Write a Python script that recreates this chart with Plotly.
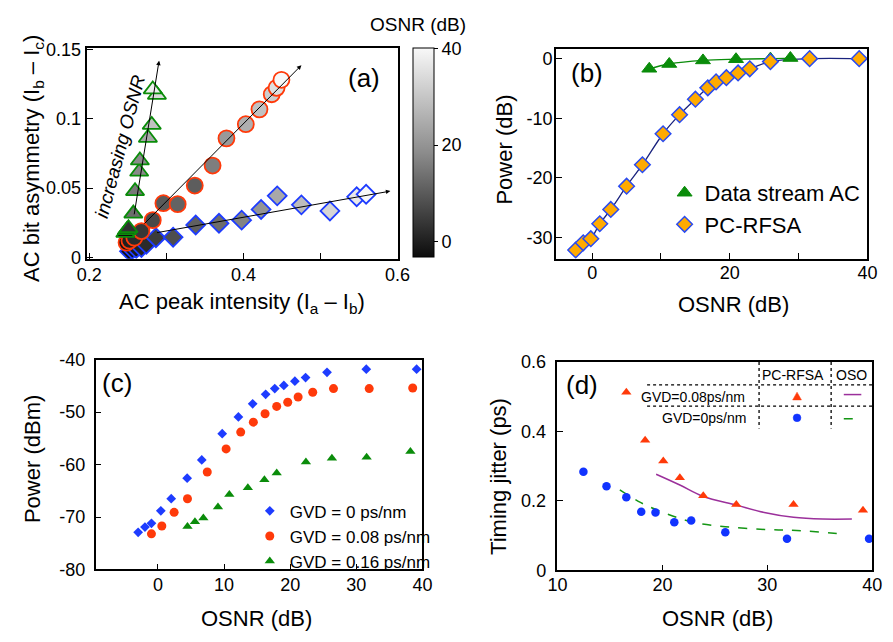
import plotly.graph_objects as go

# page offset (body margin of the html page) and figure size
OFF = 8
W, H = 893 - 2 * OFF, 642 - 2 * OFF
FONT = "Liberation Sans"

# ---------------- Panel (a) data ----------------
a_blue_x = [0.2522, 0.2560, 0.2610, 0.2677, 0.2740, 0.2865, 0.3088, 0.3381, 0.3683, 0.3977, 0.4229, 0.4438, 0.4752, 0.5122, 0.5469, 0.5591]
a_blue_y = [0.0044, 0.0058, 0.0065, 0.0072, 0.0095, 0.0142, 0.0146, 0.0234, 0.0246, 0.0269, 0.0346, 0.0444, 0.0379, 0.0335, 0.0437, 0.0455]
a_blue_osnr = [-3, -2, -1, 0.5, 2, 5, 8, 11, 13, 17, 20, 24, 28, 33, 37, 40]

a_red_x = [0.2484, 0.2522, 0.2585, 0.2677, 0.2824, 0.2962, 0.3147, 0.3369, 0.3600, 0.3780, 0.4031, 0.4208, 0.4367, 0.4430, 0.4493]
a_red_y = [0.0107, 0.0121, 0.0142, 0.0190, 0.0269, 0.0391, 0.0384, 0.0518, 0.0662, 0.0858, 0.0960, 0.1067, 0.1176, 0.1222, 0.1280]
a_red_osnr = [-2, 0, 2, 4, 7, 10, 11.5, 10.5, 16, 21, 25.5, 29, 31.5, 35, 40]

a_green_x = [0.2468, 0.2488, 0.2509, 0.2572, 0.2594, 0.2648, 0.2657, 0.2761, 0.2811, 0.2878, 0.2824]
a_green_y = [0.0177, 0.0197, 0.0211, 0.0316, 0.0478, 0.0618, 0.0699, 0.0862, 0.0955, 0.1172, 0.1211]
a_green_osnr = [-3, 0, 3, 13, 15, 18, 18.5, 24, 29, 34, 38]

# trend arrows (tail -> head), green, red, blue
a_arrow_tail_x = [0.258, 0.2698, 0.286]
a_arrow_tail_y = [0.030, 0.0234, 0.0177]
a_arrow_head_x = [0.2906, 0.4752, 0.5906]
a_arrow_head_y = [0.1418, 0.1385, 0.0478]

# ---------------- Panel (b) data ----------------
b_rfsa_osnr = [-2.4, -1.3, -0.2, 1.1, 2.7, 5.0, 7.3, 10.3, 12.7, 15.0, 16.8, 18.0, 19.5, 21.2, 22.9, 25.9, 31.6, 38.8]
b_rfsa_power = [-32.1, -30.9, -30.2, -27.7, -25.3, -21.4, -17.8, -12.6, -9.4, -6.8, -4.9, -3.9, -3.2, -2.4, -1.7, -0.5, 0.0, 0.0]
b_ac_osnr = [8.3, 11.2, 16.1, 20.9, 25.9, 28.8]
b_ac_power = [-1.7, -0.9, -0.3, -0.1, 0.0, 0.1]

# ---------------- Panel (c) data ----------------
c_gvd0_osnr = [-2.99, -1.96, -0.98, 0.44, 2.01, 4.42, 6.63, 9.72, 12.17, 14.33, 16.29, 17.67, 19.04, 20.71, 22.33, 25.57, 31.51, 39.12]
c_gvd0_power = [-72.9, -71.9, -71.2, -68.8, -66.5, -62.6, -59.1, -54.1, -50.9, -48.4, -46.6, -45.5, -44.9, -44.1, -43.4, -42.4, -41.8, -41.8]
c_gvd008_osnr = [-0.98, 0.59, 2.45, 4.47, 7.46, 10.31, 12.52, 14.43, 16.20, 17.96, 19.63, 21.20, 23.41, 26.55, 31.95, 38.53]
c_gvd008_power = [-73.2, -71.7, -69.1, -66.5, -61.4, -57.0, -53.8, -51.9, -50.3, -48.9, -48.1, -47.1, -46.2, -45.5, -45.5, -45.4]
c_gvd016_osnr = [4.47, 5.60, 6.87, 9.08, 10.80, 13.60, 16.10, 17.96, 22.38, 26.31, 31.56, 38.18]
c_gvd016_power = [-71.8, -70.9, -70.2, -68.1, -65.7, -64.4, -62.9, -61.6, -59.5, -58.8, -58.6, -57.5]

# ---------------- Panel (d) data ----------------
d_rfsa008_osnr = [16.56, 18.35, 20.08, 21.66, 23.89, 27.04, 32.49, 39.11]
d_rfsa008_jitter = [0.513, 0.375, 0.315, 0.267, 0.215, 0.190, 0.190, 0.173]
d_rfsa0_osnr = [12.47, 14.67, 16.56, 17.98, 19.34, 21.13, 22.74, 25.99, 31.87, 39.69]
d_rfsa0_jitter = [0.284, 0.242, 0.211, 0.169, 0.167, 0.139, 0.144, 0.110, 0.091, 0.091]
d_oso008_osnr = [19.40, 21.66, 23.89, 27.04, 29.70, 32.49, 35.27, 38.05]
d_oso008_jitter = [0.277, 0.246, 0.213, 0.188, 0.167, 0.153, 0.148, 0.148]
d_oso0_osnr = [15.94, 17.95, 20.42, 22.90, 25.99, 29.70, 32.80, 37.28]
d_oso0_jitter = [0.232, 0.195, 0.163, 0.139, 0.126, 0.118, 0.115, 0.105]

# ---------------- helpers (screen pixels -> paper) ----------------
def px(x):
    return (x - OFF) / W

def py(y):
    return 1 - (y - OFF) / H

GREEN = "#0a8c0a"
RED = "#ff3a0a"
BLUE = "#1e3cff"

fig = go.Figure()

# (a)
fig.add_trace(go.Scatter(x=a_blue_x, y=a_blue_y, mode="markers", xaxis="x", yaxis="y", showlegend=False,
                         marker=dict(symbol="diamond", size=14.5, color=a_blue_osnr, coloraxis="coloraxis",
                                     line=dict(color=BLUE, width=1.8))))
fig.add_trace(go.Scatter(x=a_red_x, y=a_red_y, mode="markers", xaxis="x", yaxis="y", showlegend=False,
                         marker=dict(symbol="circle", size=16, color=a_red_osnr, coloraxis="coloraxis",
                                     line=dict(color=RED, width=1.8))))
fig.add_trace(go.Scatter(x=a_green_x, y=a_green_y, mode="markers", xaxis="x", yaxis="y", showlegend=False,
                         marker=dict(symbol="triangle-up", size=16, color=a_green_osnr, coloraxis="coloraxis",
                                     line=dict(color=GREEN, width=1.8))))

# (b)
fig.add_trace(go.Scatter(x=b_ac_osnr, y=b_ac_power, mode="lines", xaxis="x2", yaxis="y2", showlegend=False,
                         line=dict(color=GREEN, width=1.3, shape="spline"), hoverinfo="skip"))
fig.add_trace(go.Scatter(x=b_rfsa_osnr, y=b_rfsa_power, mode="lines", xaxis="x2", yaxis="y2", showlegend=False,
                         line=dict(color="#1a237e", width=1.3, shape="spline"), hoverinfo="skip"))
fig.add_trace(go.Scatter(x=b_ac_osnr, y=b_ac_power, mode="markers", xaxis="x2", yaxis="y2", name="Data stream AC",
                         legend="legend", marker=dict(symbol="triangle-up", size=13, color=GREEN,
                                                      line=dict(color=GREEN, width=1))))
fig.add_trace(go.Scatter(x=b_rfsa_osnr, y=b_rfsa_power, mode="markers", xaxis="x2", yaxis="y2", name="PC-RFSA",
                         legend="legend", marker=dict(symbol="diamond", size=12, color="#ffaa00",
                                                      line=dict(color="#2a4bf0", width=1.5))))

# (c)
fig.add_trace(go.Scatter(x=c_gvd0_osnr, y=c_gvd0_power, mode="markers", xaxis="x3", yaxis="y3",
                         name="GVD = 0 ps/nm", legend="legend2",
                         marker=dict(symbol="diamond", size=7.5, color=BLUE)))
fig.add_trace(go.Scatter(x=c_gvd008_osnr, y=c_gvd008_power, mode="markers", xaxis="x3", yaxis="y3",
                         name="GVD = 0.08 ps/nm", legend="legend2",
                         marker=dict(symbol="circle", size=9, color=RED)))
fig.add_trace(go.Scatter(x=c_gvd016_osnr, y=c_gvd016_power, mode="markers", xaxis="x3", yaxis="y3",
                         name="GVD = 0.16 ps/nm", legend="legend2",
                         marker=dict(symbol="triangle-up", size=9, color=GREEN)))

# (d)
fig.add_trace(go.Scatter(x=d_oso008_osnr, y=d_oso008_jitter, mode="lines", xaxis="x4", yaxis="y4", showlegend=False,
                         line=dict(color="#9b309b", width=1.5, shape="spline")))
fig.add_trace(go.Scatter(x=d_oso0_osnr, y=d_oso0_jitter, mode="lines", xaxis="x4", yaxis="y4", showlegend=False,
                         line=dict(color="#149614", width=1.5, dash="dash", shape="spline")))
fig.add_trace(go.Scatter(x=d_rfsa008_osnr, y=d_rfsa008_jitter, mode="markers", xaxis="x4", yaxis="y4", showlegend=False,
                         marker=dict(symbol="triangle-up", size=9, color=RED)))
fig.add_trace(go.Scatter(x=d_rfsa0_osnr, y=d_rfsa0_jitter, mode="markers", xaxis="x4", yaxis="y4", showlegend=False,
                         marker=dict(symbol="circle", size=8.5, color="#1133ff")))


def axis(domain, rng, anchor, **kw):
    d = dict(domain=domain, range=rng, anchor=anchor, showline=True, mirror=True, linecolor="black",
             linewidth=1.5, ticks="inside", ticklen=6, tickwidth=1.2, tickcolor="black", showgrid=False,
             zeroline=False, tickfont=dict(size=18, color="black", family=FONT))
    d.update(kw)
    return d

ax_dom = [px(78.3), px(397.3)]
ay_dom = [py(256.7), py(39)]
bx_dom = [px(559.3), px(879.3)]
by_dom = [py(256.7), py(40)]
cx_dom = [px(86.7), px(422.3)]
cy_dom = [py(577.7), py(361)]
dx_dom = [px(561), px(884.3)]
dy_dom = [py(578.7), py(363.3)]

fig.update_layout(
    width=W, height=H, margin=dict(l=0, r=0, t=0, b=0),
    paper_bgcolor="white", plot_bgcolor="white",
    font=dict(family=FONT, color="black"),
    xaxis=axis(ax_dom, [0.1977, 0.6006], "y", tickmode="array", tickvals=[0.2, 0.4, 0.6],
               ticktext=["0.2", "0.4", "0.6"], ticklabelstandoff=-1,
               minor=dict(tickvals=[0.3, 0.5], ticks="inside", ticklen=6, tickcolor="black")),
    yaxis=axis(ay_dom, [-0.00093, 0.1509], "x", tickmode="array", tickvals=[0, 0.05, 0.1, 0.15],
               ticktext=["0", "0.05", "0.1", "0.15"], ticklabelstandoff=1),
    xaxis2=axis(bx_dom, [-5.28, 40], "y2", tickmode="array", tickvals=[0, 20, 40], ticktext=["0", "20", "40"],
                ticklabelstandoff=-3,
                minor=dict(tickvals=[10, 30], ticks="inside", ticklen=6, tickcolor="black")),
    yaxis2=axis(by_dom, [-33.57, 1.62], "x2", tickmode="array", tickvals=[0, -10, -20, -30],
                ticktext=["0", "-10", "-20", "-30"], ticklabelstandoff=-2),
    xaxis3=axis(cx_dom, [-9.42, 40], "y3", tickmode="array", tickvals=[0, 10, 20, 30, 40],
                ticktext=["0", "10", "20", "30", "40"], ticklabelstandoff=-2),
    yaxis3=axis(cy_dom, [-80, -40], "x3", tickmode="array", tickvals=[-40, -50, -60, -70, -80],
                ticktext=["-40", "-50", "-60", "-70", "-80"], ticklabelstandoff=5),
    xaxis4=axis(dx_dom, [10, 40], "y4", tickmode="array", tickvals=[10, 20, 30, 40],
                ticktext=["10", "20", "30", "40"], ticklabelstandoff=-3),
    yaxis4=axis(dy_dom, [0, 0.6], "x4", tickmode="array", tickvals=[0, 0.2, 0.4, 0.6],
                ticktext=["0", "0.2", "0.4", "0.6"], ticklabelstandoff=6),
    coloraxis=dict(
        cmin=-3.2, cmax=40.1,
        colorscale=[[0, "rgb(12,12,12)"], [0.5, "rgb(140,140,140)"], [1, "rgb(248,248,248)"]],
        colorbar=dict(x=px(412.5), xanchor="left", xpad=0, y=py(255), yanchor="bottom", ypad=0,
                      len=(255 - 39.3) / H, lenmode="fraction", thickness=20.5, thicknessmode="pixels",
                      outlinewidth=1, outlinecolor="black", tickmode="array", tickvals=[0, 20, 40],
                      ticks="outside", ticklen=4, tickcolor="black",
                      tickfont=dict(size=18, color="black", family=FONT)),
    ),
    legend=dict(x=px(671), y=py(167), xanchor="left", yanchor="top", bgcolor="rgba(0,0,0,0)",
                font=dict(size=22, color="black", family=FONT), borderwidth=0),
    legend2=dict(x=px(245), y=py(499), xanchor="left", yanchor="top", bgcolor="rgba(0,0,0,0)",
                 font=dict(size=17, color="black", family=FONT), borderwidth=0),
)

ann = []

def text_ann(x, y, text, size, angle=0, xanchor="center"):
    ann.append(dict(x=px(x), y=py(y), xref="paper", yref="paper", text=text, showarrow=False,
                    font=dict(size=size, color="black", family=FONT), textangle=angle,
                    xanchor=xanchor, yanchor="middle"))

# colorbar title
text_ann(418, 15, "OSNR (dB)", 19)
# axis titles
text_ann(23, 153, "AC bit asymmetry (I<sub>b</sub> – I<sub>c</sub>)", 22, -90)
text_ann(237.5, 302, "AC peak intensity (I<sub>a</sub> – I<sub>b</sub>)", 22)
text_ann(507, 144, "Power (dB)", 22, -90)
text_ann(741.5, 304, "OSNR (dB)", 22)
text_ann(22, 464, "Power (dBm)", 22, -90)
text_ann(251.5, 628, "OSNR (dB)", 22)
text_ann(501, 482, "Timing jitter (ps)", 22, -90)
text_ann(725, 628, "OSNR (dB)", 22)
# panel labels
text_ann(362, 70, "(a)", 26)
text_ann(591, 65, "(b)", 26)
text_ann(109, 385, "(c)", 26)
text_ann(586, 387, "(d)", 26)
# increasing OSNR
text_ann(112, 141, "<i>increasing OSNR</i>", 19, -75)

# (a) trend arrows
for tx, ty, hx, hy in zip(a_arrow_tail_x, a_arrow_tail_y, a_arrow_head_x, a_arrow_head_y):
    ann.append(dict(x=hx, y=hy, ax=tx, ay=ty, xref="x", yref="y", axref="x", ayref="y", text="",
                    showarrow=True, arrowhead=2, arrowsize=0.9, arrowwidth=1, arrowcolor="black", standoff=0))

# (d) legend table texts
text_ann(803, 377, "PC-RFSA", 14)
text_ann(863, 377, "OSO", 14)
text_ann(756, 399, "GVD=0.08ps/nm", 14, xanchor="right")
text_ann(757, 421, "GVD=0ps/nm", 14, xanchor="right")

fig.update_layout(annotations=ann)

shapes = []
dot = dict(color="black", width=1.3, dash="dot")
for xv in [768, 842]:
    shapes.append(dict(type="line", xref="paper", yref="paper", x0=px(xv), x1=px(xv), y0=py(363.3), y1=py(432), line=dot))
for yv in [387, 409]:
    shapes.append(dict(type="line", xref="paper", yref="paper", x0=px(653), x1=px(884.3), y0=py(yv), y1=py(yv), line=dot))
# legend keys in (d)
shapes.append(dict(type="path", xref="paper", yref="paper",
                   path=f"M {px(802.5)} {py(402.5)} L {px(811.5)} {py(402.5)} L {px(807)} {py(394.5)} Z",
                   fillcolor=RED, line=dict(color=RED, width=0.5)))
shapes.append(dict(type="circle", xref="paper", yref="paper", x0=px(803), x1=px(811), y0=py(425), y1=py(417),
                   fillcolor="#1133ff", line=dict(color="#1133ff", width=0.5)))
shapes.append(dict(type="line", xref="paper", yref="paper", x0=px(855), x1=px(873), y0=py(397), y1=py(397),
                   line=dict(color="#9b309b", width=1.5)))
shapes.append(dict(type="line", xref="paper", yref="paper", x0=px(855), x1=px(872), y0=py(422), y1=py(422),
                   line=dict(color="#149614", width=1.5, dash="dash")))
fig.update_layout(shapes=shapes)

fig.write_html("out.html")
